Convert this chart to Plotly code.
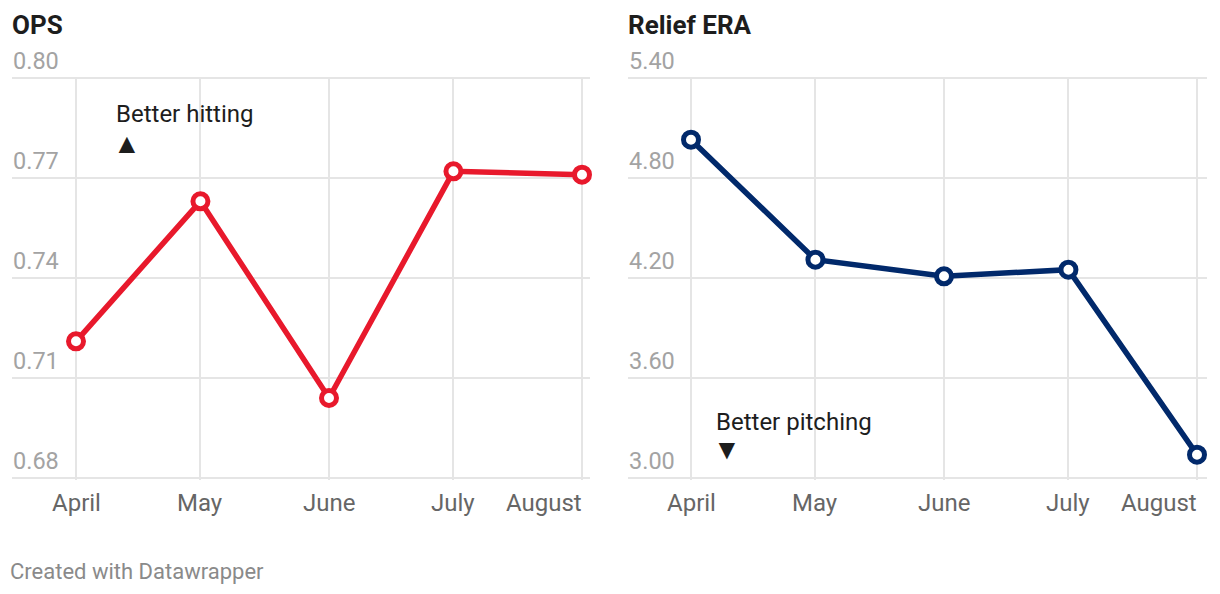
import plotly.graph_objects as go
import pandas as pd

months = ["April", "May", "June", "July", "August"]
dates = ["2023-04-01", "2023-05-01", "2023-06-01", "2023-07-01", "2023-08-01"]
ops = [0.721, 0.763, 0.704, 0.772, 0.771]
era = [5.03, 4.31, 4.21, 4.25, 3.14]
ops_ticks = [0.68, 0.71, 0.74, 0.77, 0.80]
era_ticks = [3.00, 3.60, 4.20, 4.80, 5.40]

OFF = 8  # default page body margin
W, H = 1204, 578
RED = "#e8192c"
NAVY = "#01296b"
GRID = "#e5e5e5"
FONT = "Roboto"


def px(x):
    return (x - OFF) / W


def py(y):
    return 1 - (y - OFF) / H


d0 = pd.Timestamp(dates[0])
d1 = pd.Timestamp(dates[-1])
days = (d1 - d0).days


def xrange(px_first, px_last, px_left, px_right):
    ppd = (px_last - px_first) / days
    start = d0 - pd.Timedelta(days=(px_first - px_left) / ppd)
    end = d1 + pd.Timedelta(days=(px_right - px_last) / ppd)
    return [start, end]


def yrange(lo, hi, pad_px=1.5):
    per_px = (hi - lo) / 400.0
    return [lo - pad_px * per_px, hi + pad_px * per_px]


fig = go.Figure()

fig.add_trace(go.Scatter(
    x=dates, y=ops, mode="lines+markers", xaxis="x", yaxis="y",
    line=dict(color=RED, width=5.5), cliponaxis=False,
    marker=dict(size=15, color="white", line=dict(color=RED, width=5)),
    hoverinfo="skip", showlegend=False))
fig.add_trace(go.Scatter(
    x=dates, y=era, mode="lines+markers", xaxis="x2", yaxis="y2",
    line=dict(color=NAVY, width=5.5), cliponaxis=False,
    marker=dict(size=15, color="white", line=dict(color=NAVY, width=5)),
    hoverinfo="skip", showlegend=False))

ydom = [py(478 + 1.5), py(78 - 1.5)]


def xaxis(dom, rng):
    return dict(domain=dom, range=rng, type="date", tickvals=dates,
                showticklabels=False, showgrid=True, gridcolor=GRID, gridwidth=1.5,
                zeroline=False, showline=False, ticks="", fixedrange=True)


def yaxis(anchor, ticks, lo, hi):
    return dict(domain=ydom, range=yrange(lo, hi), anchor=anchor, tickvals=ticks,
                showticklabels=False, showgrid=True, gridcolor=GRID,
                gridwidth=1.5, zeroline=False, showline=False, ticks="",
                fixedrange=True)


fig.update_layout(
    width=W, height=H, margin=dict(l=0, r=0, t=0, b=0),
    paper_bgcolor="white", plot_bgcolor="white",
    font=dict(family=FONT),
    xaxis=xaxis([px(12), px(590)], xrange(76, 582, 12, 590)),
    yaxis=yaxis("x", ops_ticks, 0.68, 0.80),
    xaxis2=xaxis([px(628), px(1207)], xrange(691, 1197, 628, 1207)),
    yaxis2=yaxis("x2", era_ticks, 3.00, 5.40),
)

ann = []
# x-axis month labels
for xa in ("x", "x2"):
    for i, (m, d) in enumerate(zip(months, dates)):
        last = i == len(months) - 1
        ann.append(dict(x=d, y=py(503), xref=xa, yref="paper", text=m,
                        showarrow=False,
                        xanchor="right" if last else "center",
                        xshift=2 if last else 0,
                        yanchor="middle", font=dict(family=FONT, size=24, color="#666666")))
# y-axis tick labels (above gridlines, left-aligned)
for ya, ticks, left in (("y", ops_ticks, 11), ("y2", era_ticks, 627)):
    for t in ticks:
        ann.append(dict(x=px(left), y=t, xref="paper", yref=ya, text=f"{t:.2f}",
                        showarrow=False, xanchor="left", yanchor="middle", yshift=17,
                        font=dict(family=FONT, size=23.5, color="#a3a3a3")))


def txt(x, y, text, size, color="#1d1d1d"):
    ann.append(dict(x=px(x), y=py(y), xref="paper", yref="paper", text=text,
                    showarrow=False, xanchor="left", yanchor="middle",
                    font=dict(family=FONT, size=size, color=color)))


txt(10, 25, "<b>OPS</b>", 26)
txt(626, 25, "<b>Relief ERA</b>", 26)
txt(114, 114, "Better hitting", 24)
txt(111, 143, "▲", 28)
txt(714, 422, "Better pitching", 24)
txt(711, 450, "▼", 28)
txt(8, 571, "Created with Datawrapper", 22, "#8a8a8a")

fig.update_layout(annotations=ann)

fig.write_html("out.html")
